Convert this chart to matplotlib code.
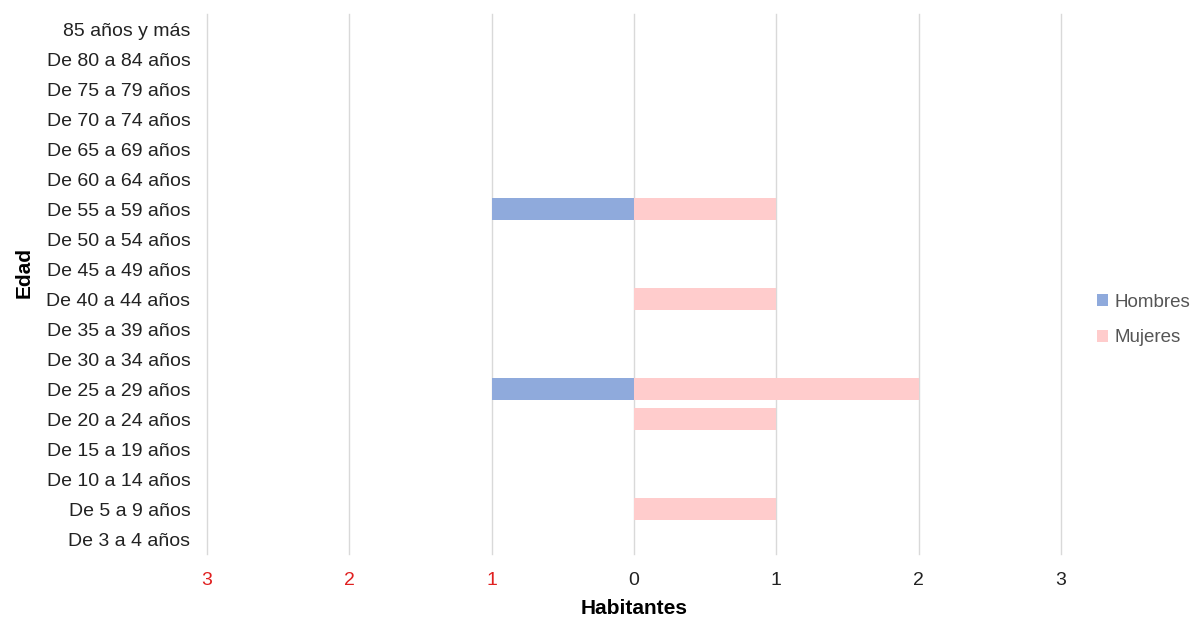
# Pirámide de población
import numpy as np
from matplotlib import pyplot as plt

plt.rcParams['font.family'] = ['Liberation Sans', 'DejaVu Sans']

# grupos de edad (de abajo hacia arriba)
edades = ["De 3 a 4 años", "De 5 a 9 años", "De 10 a 14 años", "De 15 a 19 años",
          "De 20 a 24 años", "De 25 a 29 años", "De 30 a 34 años", "De 35 a 39 años",
          "De 40 a 44 años", "De 45 a 49 años", "De 50 a 54 años", "De 55 a 59 años",
          "De 60 a 64 años", "De 65 a 69 años", "De 70 a 74 años", "De 75 a 79 años",
          "De 80 a 84 años", "85 años y más"]
hombres = [0, 0, 0, 0, 0, 1, 0, 0, 0, 0, 0, 1, 0, 0, 0, 0, 0, 0]
mujeres = [0, 1, 0, 0, 1, 2, 0, 0, 1, 0, 0, 1, 0, 0, 0, 0, 0, 0]
ticks_x = [-3, -2, -1, 0, 1, 2, 3]

def main():
    fig = plt.figure(figsize=(11.95, 6.19), dpi=100)
    ax = fig.add_axes([0.1732, 0.105, 0.7147, 0.872])

    y = np.arange(len(edades))
    ax.barh(y, -np.array(hombres), height=0.74, color='#8FAADC', label='Hombres', zorder=2)
    ax.barh(y, mujeres, height=0.74, color='#FFCCCC', label='Mujeres', zorder=2)

    ax.set_xlim(-3, 3)
    ax.set_ylim(-0.5, len(edades) - 0.5)
    ax.set_yticks(y)
    ax.set_yticklabels(edades, fontsize=14, color='#222222')
    ax.set_xticks(ticks_x)
    ax.set_xticklabels([str(abs(t)) for t in ticks_x], fontsize=14)
    for t, lab in zip(ticks_x, ax.get_xticklabels()):
        lab.set_color('#E02020' if t < 0 else '#222222')

    ax.tick_params(axis='x', length=0, pad=13)
    ax.tick_params(axis='y', length=0, pad=12)
    ax.grid(axis='x', color='#D9D9D9', linewidth=1, zorder=0)
    for gl in ax.get_xgridlines():
        gl.set_clip_on(False)
    for s in ax.spines.values():
        s.set_visible(False)

    ax.set_xlabel('Habitantes', fontsize=15, fontweight='bold', labelpad=7)
    fig.text(24 / 1195, 1 - 273 / 619, 'Edad', rotation=90, fontsize=15,
             fontweight='bold', ha='center', va='center')

    fig.legend(loc='center left', bbox_to_anchor=(1084 / 1195, 1 - 320 / 619),
               frameon=False, fontsize=13.5, handlelength=0.6, handleheight=0.6,
               handletextpad=0.3, labelspacing=1.0, labelcolor='#555555',
               borderpad=0.2)

    fig.savefig('out.png', dpi=100)

if __name__ == "__main__":
    main()
